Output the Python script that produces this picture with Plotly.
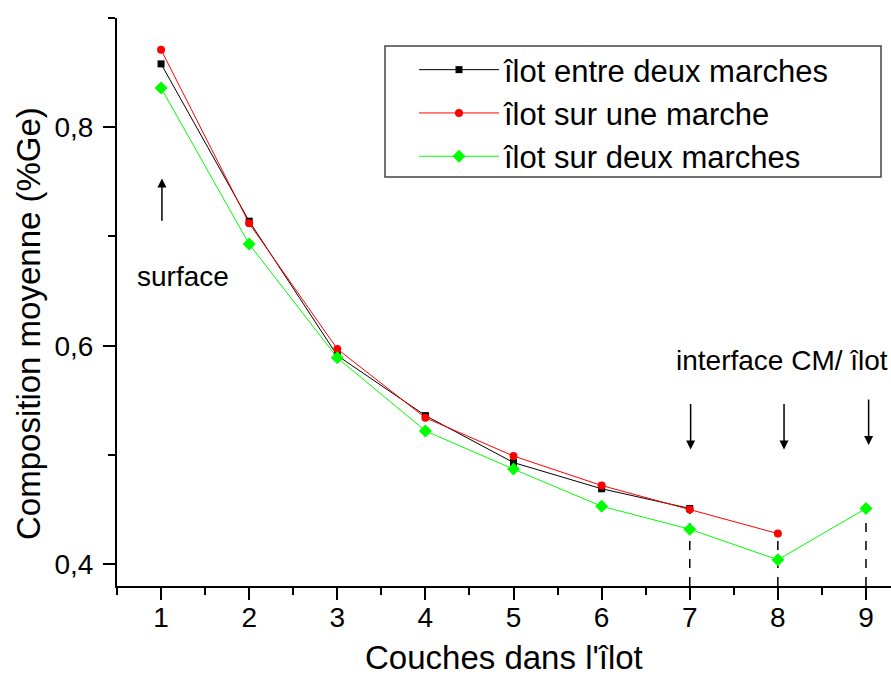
import plotly.graph_objects as go

# Data
x_black = [1, 2, 3, 4, 5, 6, 7]
y_black = [0.858, 0.714, 0.591, 0.536, 0.493, 0.469, 0.451]
x_red = [1, 2, 3, 4, 5, 6, 7, 8]
y_red = [0.871, 0.712, 0.597, 0.534, 0.499, 0.472, 0.450, 0.428]
x_green = [1, 2, 3, 4, 5, 6, 7, 8, 9]
y_green = [0.836, 0.693, 0.589, 0.522, 0.487, 0.453, 0.432, 0.404, 0.451]

names = ["îlot entre deux marches", "îlot sur une marche", "îlot sur deux marches"]
interface_layers = [7, 8, 9]
x_ticks = [1, 2, 3, 4, 5, 6, 7, 8, 9]
y_ticks = [0.4, 0.6, 0.8]

FONT = "Arial, Liberation Sans, sans-serif"
Y_MIN, Y_MAX = 0.38, 0.9
X_MIN, X_MAX = 0.5, 9.284

W, H = 891, 681
ML, MR, MT, MB = 117, 0, 18, 95
PW, PH = W - ML - MR, H - MT - MB


def px_x(p):
    return (p - ML) / PW


def px_y(p):
    return (H - MB - p) / PH


fig = go.Figure()
fig.add_trace(go.Scatter(x=x_black, y=y_black, name=names[0], mode="lines+markers",
                         line=dict(color="black", width=1),
                         marker=dict(symbol="square", size=7, color="black")))
fig.add_trace(go.Scatter(x=x_red, y=y_red, name=names[1], mode="lines+markers",
                         line=dict(color="#ff0000", width=1),
                         marker=dict(symbol="circle", size=8, color="#ff0000")))
fig.add_trace(go.Scatter(x=x_green, y=y_green, name=names[2], mode="lines+markers",
                         line=dict(color="#00ff00", width=1),
                         marker=dict(symbol="diamond", size=10, color="#00ff00")))

# dashed drop lines at interface layers (from highest point at that layer down to axis)
series = [(x_black, y_black), (x_red, y_red), (x_green, y_green)]
for xl in interface_layers:
    top = max(ys[xs.index(xl)] for xs, ys in series if xl in xs)
    fig.add_shape(type="line", x0=xl, x1=xl, y0=Y_MIN, y1=top, xref="x", yref="y",
                  line=dict(color="black", width=1.5, dash="dash"), layer="below")

# legend frame
fig.add_shape(type="rect", xref="paper", yref="paper",
              x0=px_x(385), x1=px_x(881), y0=px_y(177), y1=px_y(46),
              line=dict(color="#444", width=1.5), fillcolor="white", layer="below")

# arrows
fig.add_annotation(x=1.01, y=0.753, ax=1.01, ay=0.713, xref="x", yref="y", axref="x", ayref="y",
                   showarrow=True, arrowhead=2, arrowsize=1.2, arrowwidth=1.5, arrowcolor="black", text="")
for xa, yt, yh in [(7.01, 0.548, 0.505), (8.07, 0.548, 0.505), (9.03, 0.552, 0.509)]:
    fig.add_annotation(x=xa, y=yh, ax=xa, ay=yt, xref="x", yref="y", axref="x", ayref="y",
                       showarrow=True, arrowhead=2, arrowsize=1.2, arrowwidth=1.5,
                       arrowcolor="black", text="")

fig.add_annotation(x=1.25, y=0.663, xref="x", yref="y", text="surface", showarrow=False,
                   font=dict(family=FONT, size=28, color="black"))
fig.add_annotation(x=8.05, y=0.586, xref="x", yref="y", text="interface CM/ îlot", showarrow=False,
                   font=dict(family=FONT, size=28, color="black"))

# axis titles
fig.add_annotation(x=px_x(504), y=px_y(657), xref="paper", yref="paper", text="Couches dans l'îlot",
                   showarrow=False, xanchor="center", yanchor="middle",
                   font=dict(family=FONT, size=33, color="black"))
fig.add_annotation(x=px_x(28), y=px_y(324), xref="paper", yref="paper", text="Composition moyenne (%Ge)",
                   showarrow=False, xanchor="center", yanchor="middle", textangle=-90,
                   font=dict(family=FONT, size=33, color="black"))

fig.update_layout(
    width=W, height=H,
    margin=dict(l=ML, r=MR, t=MT, b=MB, autoexpand=False),
    paper_bgcolor="white", plot_bgcolor="white",
    separators=", ",
    font=dict(family=FONT, color="black"),
    legend=dict(x=px_x(414), y=px_y(43), xanchor="left", yanchor="top",
                borderwidth=0, bgcolor="rgba(0,0,0,0)",
                font=dict(family=FONT, size=31, color="black"),
                itemwidth=80, tracegroupgap=0),
    xaxis=dict(range=[X_MIN, X_MAX], tickvals=x_ticks, showgrid=False, zeroline=False, automargin=False,
               showline=True, linecolor="black", linewidth=2,
               ticks="outside", ticklen=12, tickwidth=2, tickcolor="black", ticklabelstandoff=-7,
               tickfont=dict(family=FONT, size=28, color="black"),
               minor=dict(tickvals=[0.5, 1.5, 2.5, 3.5, 4.5, 5.5, 6.5, 7.5, 8.5],
                          ticks="outside", ticklen=7, tickwidth=2, tickcolor="black", showgrid=False)),
    yaxis=dict(range=[Y_MIN, Y_MAX], tickvals=y_ticks, tickformat=".1f", showgrid=False, zeroline=False,
               automargin=False,
               showline=True, linecolor="black", linewidth=2,
               ticks="outside", ticklen=12, tickwidth=2, tickcolor="black", ticklabelstandoff=4,
               tickfont=dict(family=FONT, size=28, color="black"),
               minor=dict(tickvals=[0.5, 0.7, 0.9], ticks="outside", ticklen=7, tickwidth=2,
                          tickcolor="black", showgrid=False)),
)

fig.write_html("out.html", config={"displayModeBar": False},
               post_script="document.body.style.margin='0';document.body.style.overflow='hidden';")
